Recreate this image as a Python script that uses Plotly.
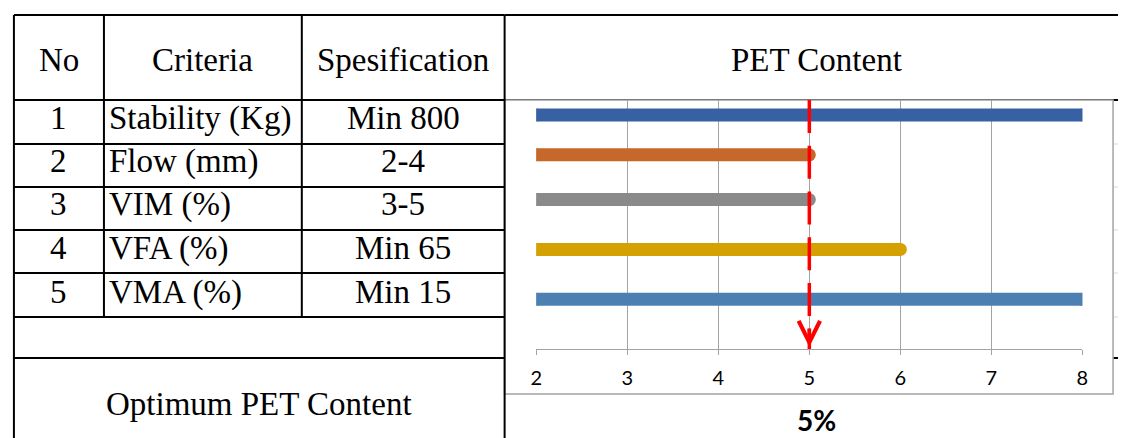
import plotly.graph_objects as go

# ---- table content ----
NO = [1, 2, 3, 4, 5]
CRITERIA = ["Stability (Kg)", "Flow (mm)", "VIM (%)", "VFA (%)", "VMA (%)"]
SPECIFICATION = ["Min 800", "2-4", "3-5", "Min 65", "Min 15"]
HEADERS = ["No", "Criteria", "Spesification", "PET Content"]

# ---- chart series: PET content range satisfying each criterion ----
RANGE_START = [2, 2, 2, 2, 2]
RANGE_END = [8, 5, 5, 6, 8]
LEVEL = [9.4, 7.8, 6.0, 4.0, 2.0]
SERIES_COLORS = ["#3761A3", "#C5682A", "#8A8A8A", "#D4A002", "#4C80B2"]
X_TICKS = [2, 3, 4, 5, 6, 7, 8]
OPTIMUM = 5

# ---- page geometry (pixels) ----
W, H = 1124, 438


def px(x):
    return x / W


def py(y):
    return 1 - y / H


COL_X = [8, 99, 299, 504]          # table vertical rules
ROW_Y = [15, 100, 144, 187, 230, 273, 317, 358]
ROW_TEXT_Y = [118, 161, 204, 248, 292]
BOX = dict(x0=504, x1=1119, y0=100, y1=394)   # chart frame
PLOT = dict(x0=536, x1=1088, y0=100, y1=349)  # plotting area

BLACK = "#000000"
GRID = "#A3A3A3"
SERIF = "Liberation Serif"
SANS = "Lato"
TXT = 33

shapes = []


def hline(y, x0, x1, color=BLACK, width=2):
    shapes.append(dict(type="line", xref="paper", yref="paper", layer="below",
                       x0=px(x0), x1=px(x1), y0=py(y), y1=py(y),
                       line=dict(color=color, width=width)))


def vline(x, y0, y1, color=BLACK, width=2):
    shapes.append(dict(type="line", xref="paper", yref="paper", layer="below",
                       x0=px(x), x1=px(x), y0=py(y0), y1=py(y1),
                       line=dict(color=color, width=width)))


# right-hand section rules (mostly hidden behind the chart frame)
hline(ROW_Y[0], COL_X[3], W)
hline(ROW_Y[1], COL_X[3], W)
for y in ROW_Y[2:7]:
    hline(y, COL_X[3], W, color="#D9D9D9", width=1)
hline(ROW_Y[7], COL_X[3], W)

# chart frame
shapes.append(dict(type="rect", xref="paper", yref="paper", layer="below",
                   x0=px(BOX["x0"]), x1=px(BOX["x1"]),
                   y0=py(BOX["y1"]), y1=py(BOX["y0"]),
                   fillcolor="white", line=dict(color=GRID, width=1.5)))

# left table rules
for y in ROW_Y:
    hline(y, COL_X[0], COL_X[3])
vline(COL_X[0], ROW_Y[0], H)
vline(COL_X[1], ROW_Y[0], ROW_Y[6])
vline(COL_X[2], ROW_Y[0], ROW_Y[6])
vline(COL_X[3], ROW_Y[0], H)

annotations = []


def label(text, x, y, size=TXT, xanchor="center", yanchor="middle",
          family=SERIF, bold=False):
    annotations.append(dict(
        text=f"<b>{text}</b>" if bold else text,
        x=px(x), y=py(y), xref="paper", yref="paper",
        xanchor=xanchor, yanchor=yanchor, showarrow=False, borderpad=0,
        font=dict(family=family, size=size, color=BLACK)))


# header row
head_y = 60
label(HEADERS[0], (COL_X[0] + COL_X[1]) / 2, head_y)
label(HEADERS[1], (COL_X[1] + COL_X[2]) / 2, head_y)
label(HEADERS[2], (COL_X[2] + COL_X[3]) / 2, head_y)
label(HEADERS[3], 819, head_y)

# body rows
for n, crit, spec, ty in zip(NO, CRITERIA, SPECIFICATION, ROW_TEXT_Y):
    label(str(n), (COL_X[0] + COL_X[1]) / 2, ty)
    label(crit, COL_X[1] + 4, ty, xanchor="left")
    label(spec, (COL_X[2] + COL_X[3]) / 2, ty)

label("Optimum PET Content", (COL_X[0] + COL_X[3]) / 2, 404)
label(f"{OPTIMUM}%", 819, H, size=28, yanchor="bottom", family=SANS, bold=True)

fig = go.Figure()

# criterion ranges as thick rounded bars
for x0, x1, lv, col, crit in zip(RANGE_START, RANGE_END, LEVEL, SERIES_COLORS, CRITERIA):
    fig.add_trace(go.Scatter(
        x=[x0, x1], y=[lv, lv], mode="lines+markers", name=crit,
        line=dict(color=col, width=13),
        marker=dict(color=col, size=13, line=dict(width=0)),
        cliponaxis=True, hoverinfo="skip", showlegend=False))

# optimum marker line
fig.add_trace(go.Scatter(
    x=[OPTIMUM, OPTIMUM], y=[10, 0], mode="lines",
    line=dict(color="#FF0000", width=3.5, dash="33px,12.75px"),
    hoverinfo="skip", showlegend=False))

annotations.append(dict(
    x=OPTIMUM, y=0, xref="x", yref="y", text="", showarrow=True,
    ax=0, ay=-22, arrowhead=5, arrowsize=1.2, arrowwidth=3.5,
    arrowcolor="#FF0000", standoff=2))

fig.update_layout(
    width=W, height=H, autosize=False,
    margin=dict(l=0, r=0, t=0, b=0),
    paper_bgcolor="white", plot_bgcolor="rgba(0,0,0,0)",
    shapes=shapes, annotations=annotations,
    xaxis=dict(domain=[px(PLOT["x0"]), px(PLOT["x1"])], range=[2, 8],
               tickvals=X_TICKS, ticktext=[str(t) for t in X_TICKS],
               showgrid=True, gridcolor=GRID, gridwidth=1.3,
               showline=True, linecolor=GRID, linewidth=1.3,
               ticks="outside", ticklen=5, tickcolor=GRID, tickwidth=1.3,
               ticklabelstandoff=6,
               tickfont=dict(family=SANS, size=20, color=BLACK),
               zeroline=False, fixedrange=True),
    yaxis=dict(domain=[py(PLOT["y1"]), py(PLOT["y0"])], range=[0, 10],
               showgrid=False, showticklabels=False, showline=False,
               zeroline=False, ticks="", fixedrange=True),
)

fig.write_html("out.html")
